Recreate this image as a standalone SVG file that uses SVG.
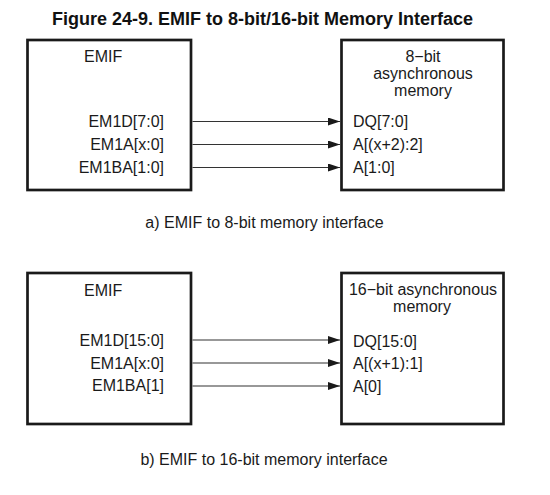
<svg xmlns="http://www.w3.org/2000/svg" width="550" height="495" viewBox="0 0 550 495">
<defs>
<marker id="arr" markerUnits="userSpaceOnUse" markerWidth="12" markerHeight="8" refX="12" refY="4" orient="auto">
<path d="M0,0 L12,4 L0,8 z" fill="#1a1a1a"/>
</marker>
<style>
.box{fill:#fff;stroke:#1a1a1a;stroke-width:2.7}
.t{font-family:"Liberation Sans",Arial,sans-serif;font-size:16px;fill:#1a1a1a}
.r{text-anchor:end}
.m{text-anchor:middle}
.title{font-family:"Liberation Sans",Arial,sans-serif;font-size:18px;font-weight:bold;fill:#111;text-anchor:middle}
.c{stroke:#333;stroke-width:1.2;fill:none;marker-end:url(#arr)}
</style>
</defs>
<rect width="550" height="495" fill="#fff"/>
<text class="title" x="262.5" y="25">Figure 24-9. EMIF to 8-bit/16-bit Memory Interface</text>

<g id="emif-a">
<rect class="box" x="27.5" y="40" width="163.5" height="150"/>
<text class="t" x="84" y="62">EMIF</text>
<text class="t r" x="164" y="127">EM1D[7:0]</text>
<text class="t r" x="164" y="150">EM1A[x:0]</text>
<text class="t r" x="164" y="173">EM1BA[1:0]</text>
</g>
<g id="mem8">
<rect class="box" x="341.5" y="40" width="162" height="150"/>
<text class="t m" x="423" y="62">8−bit</text>
<text class="t m" x="423" y="79">asynchronous</text>
<text class="t m" x="423" y="95.5">memory</text>
<text class="t" x="353" y="127">DQ[7:0]</text>
<text class="t" x="353" y="150">A[(x+2):2]</text>
<text class="t" x="353" y="173">A[1:0]</text>
</g>
<text class="t m" x="264.5" y="228">a) EMIF to 8-bit memory interface</text>

<g id="emif-b">
<rect class="box" x="27.5" y="273" width="163.5" height="151"/>
<text class="t" x="84" y="295.5">EMIF</text>
<text class="t r" x="164" y="346">EM1D[15:0]</text>
<text class="t r" x="164" y="368.5">EM1A[x:0]</text>
<text class="t r" x="164" y="391">EM1BA[1]</text>
</g>
<g id="mem16">
<rect class="box" x="341.5" y="273" width="162" height="151"/>
<text class="t m" x="423" y="295">16−bit asynchronous</text>
<text class="t m" x="422" y="311.5">memory</text>
<text class="t" x="353" y="346.5">DQ[15:0]</text>
<text class="t" x="353" y="368.5">A[(x+1):1]</text>
<text class="t" x="353" y="391.5">A[0]</text>
</g>
<text class="t m" x="264" y="465">b) EMIF to 16-bit memory interface</text>

<g id="connectors">
<line class="c" x1="192.5" y1="121.5" x2="340" y2="121.5"/>
<line class="c" x1="192.5" y1="144.5" x2="340" y2="144.5"/>
<line class="c" x1="192.5" y1="167.5" x2="340" y2="167.5"/>
<line class="c" x1="192.5" y1="340" x2="340" y2="340"/>
<line class="c" x1="192.5" y1="363" x2="340" y2="363"/>
<line class="c" x1="192.5" y1="386" x2="340" y2="386"/>
</g>
</svg>
